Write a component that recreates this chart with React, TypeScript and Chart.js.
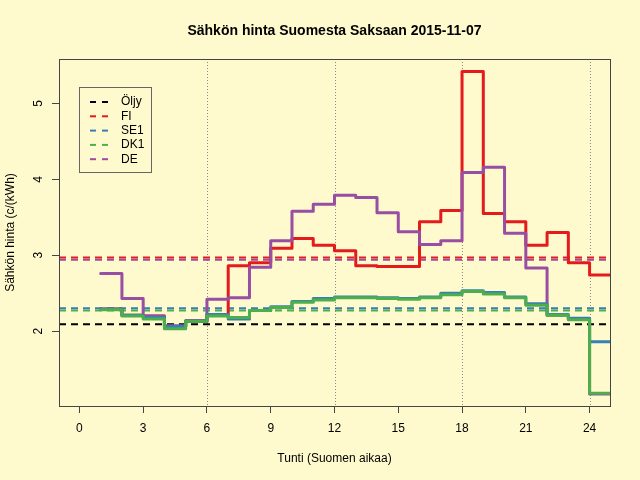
import { useEffect, useRef } from 'react';
import { Chart, registerables } from 'chart.js';

Chart.register(...registerables);

const chartTitle = 'Sähkön hinta Suomesta Saksaan 2015-11-07';
const xTitle = 'Tunti (Suomen aikaa)';
const yTitle = 'Sähkön hinta (c/(kWh)';

// hour at which each step starts; the last one closes the final step
const hours = [1, 2, 3, 4, 5, 6, 7, 8, 9, 10, 11, 12, 13, 14, 15, 16, 17, 18, 19, 20, 21, 22, 23, 24, 25];
const xTicks = [0, 3, 6, 9, 12, 15, 18, 21, 24];
const yTicks = [2, 3, 4, 5];
const gridHours = [6, 12, 18, 24];

const fi = [2.29, 2.21, 2.2, 2.06, 2.13, 2.22, 2.86, 2.9, 3.09, 3.22, 3.13, 3.06, 2.86, 2.85, 2.85, 3.44, 3.59, 5.42, 3.55, 3.44, 3.13, 3.3, 2.9, 2.74];
const se1 = [2.29, 2.21, 2.18, 2.06, 2.13, 2.22, 2.16, 2.27, 2.32, 2.39, 2.43, 2.45, 2.45, 2.44, 2.43, 2.45, 2.5, 2.53, 2.51, 2.45, 2.36, 2.22, 2.17, 1.86];
const dk1 = [2.28, 2.2, 2.16, 2.03, 2.13, 2.2, 2.18, 2.27, 2.31, 2.38, 2.41, 2.44, 2.44, 2.43, 2.42, 2.44, 2.48, 2.52, 2.49, 2.44, 2.34, 2.21, 2.15, 1.18];
const de = [2.76, 2.43, 2.2, 2.07, 2.14, 2.42, 2.44, 2.84, 3.19, 3.58, 3.67, 3.79, 3.76, 3.56, 3.31, 3.14, 3.19, 4.09, 4.16, 3.29, 2.83, 2.21, 2.16, 1.17];

// dashed reference levels, same order as the legend
const seriesNames = ['Öljy', 'FI', 'SE1', 'DK1', 'DE'];
const seriesColors = ['#000000', '#E41A1C', '#377EB8', '#4DAF4A', '#984EA3'];
const averages = [2.09, 2.97, 2.3, 2.27, 2.94];

const X_MIN = -0.96;
const X_MAX = 24.96;
const Y_MIN = 1.013;
const Y_MAX = 5.585;

const FONT = "'Liberation Sans', Arial, Helvetica, sans-serif";
const BG = '#FFFACD';

const steps = (vals: number[]) =>
  hours.map((h, i) => ({ x: h, y: vals[Math.min(i, vals.length - 1)] }));

const rPlot = {
  id: 'rPlot',
  beforeDraw(chart: Chart) {
    const { ctx, width, height } = chart;
    ctx.save();
    ctx.fillStyle = BG;
    ctx.fillRect(0, 0, width, height);
    ctx.restore();
  },
  beforeDatasetsDraw(chart: Chart) {
    const { ctx, chartArea } = chart;
    const xs = chart.scales.x;
    ctx.save();
    ctx.strokeStyle = '#8a8a8a';
    ctx.lineWidth = 1;
    ctx.setLineDash([1, 2]);
    gridHours.forEach((h) => {
      const px = Math.round(xs.getPixelForValue(h)) + 0.5;
      ctx.beginPath();
      ctx.moveTo(px, chartArea.top);
      ctx.lineTo(px, chartArea.bottom);
      ctx.stroke();
    });
    ctx.restore();
  },
  afterDatasetsDraw(chart: Chart) {
    const { ctx, chartArea } = chart;
    ctx.save();
    // plot box
    ctx.strokeStyle = '#444';
    ctx.lineWidth = 1;
    ctx.strokeRect(
      Math.round(chartArea.left) + 0.5,
      Math.round(chartArea.top) + 0.5,
      Math.round(chartArea.right - chartArea.left),
      Math.round(chartArea.bottom - chartArea.top)
    );

    // title
    ctx.fillStyle = '#000';
    ctx.font = `bold 14px ${FONT}`;
    ctx.textAlign = 'center';
    ctx.textBaseline = 'middle';
    ctx.fillText(chartTitle, (chartArea.left + chartArea.right) / 2, 31);

    // legend
    ctx.strokeStyle = '#666';
    ctx.strokeRect(79.5, 87.5, 72, 85);
    ctx.font = `12px ${FONT}`;
    ctx.textAlign = 'left';
    seriesNames.forEach((name, i) => {
      const y = 102 + i * 14.3;
      ctx.strokeStyle = seriesColors[i];
      ctx.lineWidth = 2;
      ctx.setLineDash([6, 6]);
      ctx.beginPath();
      ctx.moveTo(90, y);
      ctx.lineTo(108, y);
      ctx.stroke();
      ctx.setLineDash([]);
      ctx.fillStyle = '#000';
      ctx.fillText(name, 121, y);
    });
    ctx.restore();
  },
};

const App = () => {
  const canvasRef = useRef<HTMLCanvasElement | null>(null);

  useEffect(() => {
    document.body.style.margin = '0';
    const canvas = canvasRef.current;
    if (!canvas) return;

    const levelSets = averages.map((v, i) => ({
      label: seriesNames[i] + ' avg',
      data: [
        { x: X_MIN, y: v },
        { x: X_MAX, y: v },
      ],
      borderColor: seriesColors[i],
      borderWidth: 2,
      borderDash: [7, 5],
      pointRadius: 0,
      order: 10 + i,
    }));

    const stepSet = (label: string, vals: number[], color: string, order: number) => ({
      label,
      data: steps(vals),
      borderColor: color,
      borderWidth: 3,
      stepped: 'before' as const,
      pointRadius: 0,
      borderJoinStyle: 'round' as const,
      borderCapStyle: 'round' as const,
      order,
    });

    const chart = new Chart(canvas, {
      type: 'line',
      data: {
        datasets: [
          ...levelSets,
          stepSet('FI', fi, seriesColors[1], 3),
          stepSet('DE', de, seriesColors[4], 2),
          stepSet('SE1', se1, seriesColors[2], 1),
          stepSet('DK1', dk1, seriesColors[3], 0),
        ],
      },
      options: {
        responsive: false,
        animation: false,
        events: [],
        layout: { padding: { top: 59, right: 30, left: 0, bottom: 0 } },
        plugins: {
          legend: { display: false },
          tooltip: { enabled: false },
          title: { display: false },
        },
        scales: {
          x: {
            type: 'linear',
            min: X_MIN,
            max: X_MAX,
            afterBuildTicks: (axis: any) => {
              axis.ticks = xTicks.map((v) => ({ value: v }));
            },
            afterFit: (axis: any) => {
              axis.height = 74;
            },
            ticks: {
              autoSkip: false,
              maxRotation: 0,
              padding: 8,
              color: '#000',
              font: { family: FONT, size: 12 },
            },
            grid: {
              drawOnChartArea: false,
              tickLength: 7,
              tickColor: '#444',
              tickWidth: 1,
            },
            border: { display: false },
            title: {
              display: true,
              text: xTitle,
              color: '#000',
              font: { family: FONT, size: 12 },
              padding: { top: 0, bottom: 14 },
            },
          },
          y: {
            type: 'linear',
            min: Y_MIN,
            max: Y_MAX,
            afterBuildTicks: (axis: any) => {
              axis.ticks = yTicks.map((v) => ({ value: v }));
            },
            afterFit: (axis: any) => {
              axis.width = 59;
            },
            ticks: {
              minRotation: 90,
              maxRotation: 90,
              crossAlign: 'center',
              padding: 10,
              color: '#000',
              font: { family: FONT, size: 12 },
            },
            grid: {
              drawOnChartArea: false,
              tickLength: 7,
              tickColor: '#444',
              tickWidth: 1,
            },
            border: { display: false },
            title: {
              display: true,
              text: yTitle,
              color: '#000',
              font: { family: FONT, size: 12 },
              padding: { top: 3, bottom: 0 },
            },
          },
        },
      },
      plugins: [rPlot],
    });

    return () => {
      chart.destroy();
    };
  }, []);

  return (
    <div style={{ width: 640, height: 480 }}>
      <canvas ref={canvasRef} width={640} height={480} />
    </div>
  );
};

export default App;
